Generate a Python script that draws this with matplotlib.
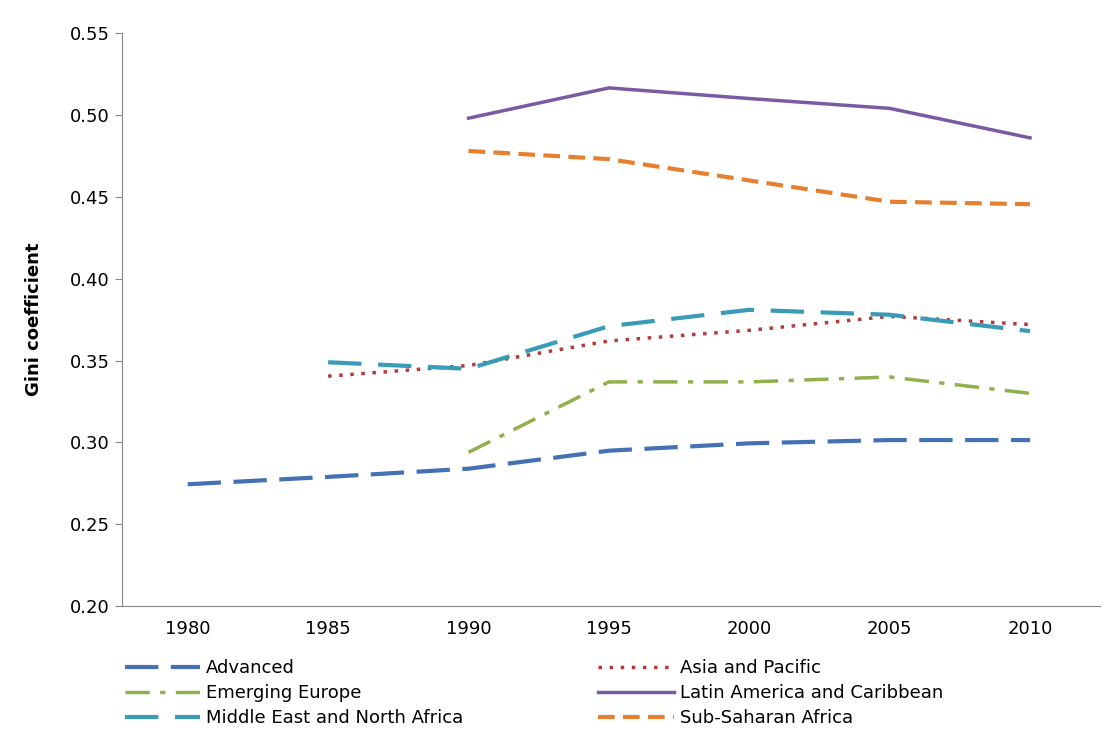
import matplotlib
matplotlib.use("Agg")
import matplotlib.pyplot as plt
import numpy as np

years = ["1980", "1985", "1990", "1995", "2000", "2005", "2010"]
advanced = [0.2745, 0.279, 0.284, 0.295, 0.2995, 0.3015, 0.3015]
asia = [None, 0.3405, 0.347, 0.362, 0.3685, 0.377, 0.372]
emerging = [None, None, 0.294, 0.337, 0.337, 0.340, 0.330]
latam = [None, None, 0.498, 0.5165, 0.51, 0.504, 0.486]
mena = [None, 0.349, 0.345, 0.371, 0.381, 0.378, 0.368]
ssa = [None, None, 0.478, 0.473, 0.46, 0.447, 0.4455]

def arr(v):
    return np.array([np.nan if a is None else a for a in v])

fig = plt.figure(figsize=(11.17, 7.34), dpi=100)
ax = fig.add_axes([0.109, 0.174, 0.876, 0.781])
x = np.arange(len(years))
ax.plot(x, arr(advanced), color="#4471b4", lw=3, dashes=(8, 3, 8, 3), label="Advanced")
ax.plot(x, arr(asia), color="#b23b3b", lw=2.5, dashes=(1, 2.2), label="Asia and Pacific")
ax.plot(x, arr(emerging), color="#8fb04a", lw=2.5, dashes=(7, 3, 1.5, 3), label="Emerging Europe")
ax.plot(x, arr(latam), color="#7a5aa2", lw=2.5, label="Latin America and Caribbean")
ax.plot(x, arr(mena), color="#3a9bb8", lw=3, dashes=(8, 4), label="Middle East and North Africa")
ax.plot(x, arr(ssa), color="#e6802f", lw=3, dashes=(4, 2), label="Sub-Saharan Africa")

ax.set_xlim(-0.47, 6.5)
ax.set_ylim(0.20, 0.55)
ax.set_xticks(x)
ax.set_xticklabels(years)
ax.set_yticks(np.arange(0.20, 0.5501, 0.05))
ax.set_yticklabels([f"{v:.2f}" for v in np.arange(0.20, 0.5501, 0.05)])
ax.tick_params(axis="both", labelsize=13, color="#888888", length=5)
ax.tick_params(axis="x", length=0, pad=10)
for s in ["top", "right"]:
    ax.spines[s].set_visible(False)
for s in ["left", "bottom"]:
    ax.spines[s].set_color("#888888")
ax.set_ylabel("Gini coefficient", fontsize=13, fontweight="bold")
ax.yaxis.set_label_coords(-0.08, 0.5)

h, l = ax.get_legend_handles_labels()
order = [0, 2, 4, 1, 3, 5]
fig.legend([h[i] for i in order], [l[i] for i in order], loc="upper left",
           bbox_to_anchor=(0.105, 0.112), ncol=2, frameon=False,
           fontsize=13, handlelength=4.2, handletextpad=0.3, columnspacing=7.5,
           labelspacing=0.4, borderaxespad=0)
fig.savefig("out.png", dpi=100)
